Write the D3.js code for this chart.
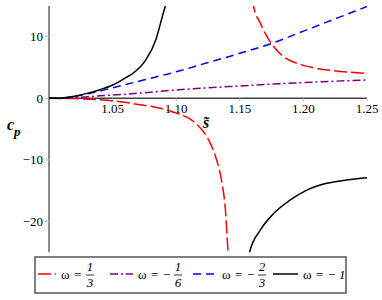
<!DOCTYPE html>
<html lang="en">
<head>
    <meta charset="UTF-8">
    <title>cp vs s</title>
    <style>
        body { margin: 0; background: #fff; }
    </style>
</head>
<body>
<div id="chart"></div>
<script src="https://d3js.org/d3.v7.min.js"></script>
<script>
    // values (s~, c_p)
    const redA_s = [1.0, 1.02, 1.04, 1.056, 1.07, 1.0825, 1.10, 1.115, 1.1256, 1.131, 1.136, 1.1387, 1.1405, 1.1412];
    const redA_c = [0, -0.05, -0.25, -0.55, -1.0, -1.4, -2.4, -4.0, -6.8, -9.5, -13.8, -18.1, -24.1, -26];
    const redB_s = [1.1604, 1.1609, 1.1661, 1.1714, 1.1766, 1.1844, 1.1949, 1.2079, 1.2236, 1.25];
    const redB_c = [16, 14.9, 12.2, 10.0, 8.4, 6.75, 5.68, 4.97, 4.48, 4.06];
    const purple_s = [1.0, 1.02, 1.04, 1.06, 1.08, 1.10, 1.125, 1.15, 1.175, 1.20, 1.225, 1.25];
    const purple_c = [0, 0.1, 0.4, 0.65, 1.0, 1.35, 1.7, 2.0, 2.3, 2.55, 2.78, 2.97];
    const blue_s = [1.0, 1.01, 1.02, 1.03, 1.05, 1.075, 1.10, 1.125, 1.15, 1.175, 1.20, 1.225, 1.25];
    const blue_c = [0, 0.05, 0.3, 0.7, 1.7, 3.0, 4.3, 5.8, 7.3, 8.9, 10.9, 12.9, 14.9];
    const blackA_s = [1.0, 1.01, 1.02, 1.03, 1.04, 1.05, 1.06, 1.066, 1.076, 1.084, 1.089, 1.092, 1.094];
    const blackA_c = [0, 0.05, 0.35, 0.8, 1.4, 2.15, 3.3, 4.06, 6.2, 9.5, 13.2, 15.4, 17];
    const blackB_s = [1.157, 1.1578, 1.1661, 1.1766, 1.1897, 1.2027, 1.2184, 1.2341, 1.25];
    const blackB_c = [-26, -24.9, -21.4, -18.7, -16.5, -14.9, -13.8, -13.26, -12.9];

    const xTicks = [1.05, 1.10, 1.15, 1.20, 1.25];
    const xTickLabels = ["1.05", "1.10", "1.15", "1.20", "1.25"];
    const yTicks = [-20, -10, 0, 10];
    const yTickLabels = ["\u221220", "\u221210", "0", "10"];

    const legendSign = ["", "\u2212", "\u2212", "\u2212"];
    const legendNum = ["1", "1", "2", "1"];
    const legendDen = ["3", "6", "3", null];
    const legendColor = ["#ff0000", "#800080", "#0000ff", "#000000"];
    const legendDash = ["13,4", "8,3,2,3", "8,5", null];

    const W = 382, H = 300;
    const serif = "'Liberation Serif', 'Times New Roman', 'DejaVu Serif', serif";
    const svg = d3.select("#chart").append("svg")
        .attr("width", W)
        .attr("height", H)
        .attr("font-family", serif);

    const x = d3.scaleLinear().domain([1.0, 1.25]).range([49, 367]);
    const y = d3.scaleLinear().domain([-25, 15]).range([252.3, 5.9]);

    svg.append("clipPath").attr("id", "plotclip")
        .append("rect")
        .attr("x", x(1.0)).attr("y", y(15))
        .attr("width", x(1.25) - x(1.0)).attr("height", y(-25) - y(15));

    // axes
    svg.append("line")
        .attr("x1", x(1.0)).attr("x2", x(1.0))
        .attr("y1", y(15)).attr("y2", y(-25))
        .attr("stroke", "#8a8a8a").attr("stroke-width", 2);
    svg.append("line")
        .attr("x1", x(1.0)).attr("x2", x(1.25))
        .attr("y1", y(0)).attr("y2", y(0))
        .attr("stroke", "#444").attr("stroke-width", 1.5);

    // y ticks + labels
    svg.selectAll(".ytick").data(yTicks).join("line")
        .attr("x1", x(1.0) - 4).attr("x2", x(1.0))
        .attr("y1", d => y(d)).attr("y2", d => y(d))
        .attr("stroke", "#bbb").attr("stroke-width", 1);
    svg.selectAll(".ylab").data(yTicks).join("text")
        .attr("x", x(1.0) - 6)
        .attr("y", d => y(d) + 4.5)
        .attr("text-anchor", "end")
        .style("font-size", "13px")
        .text((d, i) => yTickLabels[i]);

    // x ticks + labels
    svg.selectAll(".xtick").data(xTicks).join("line")
        .attr("x1", d => x(d)).attr("x2", d => x(d))
        .attr("y1", y(0)).attr("y2", y(0) + 3)
        .attr("stroke", "#bbb").attr("stroke-width", 1);
    svg.selectAll(".xlab").data(xTicks).join("text")
        .attr("x", d => x(d))
        .attr("y", y(0) + 15)
        .attr("text-anchor", "middle")
        .style("font-size", "13px")
        .text((d, i) => xTickLabels[i]);

    // axis titles
    const cp = svg.append("text")
        .attr("x", 7).attr("y", 130)
        .style("font-size", "16px")
        .style("font-weight", "bold")
        .style("font-style", "italic");
    cp.append("tspan").text("c");
    cp.append("tspan").attr("dy", 6).style("font-size", "13px").text("p");

    svg.append("text")
        .attr("x", 206).attr("y", 128)
        .attr("text-anchor", "middle")
        .style("font-size", "16px")
        .style("font-weight", "bold")
        .style("font-style", "italic")
        .text("s\u0303");

    // curves
    const line = d3.line()
        .x(d => x(d[0]))
        .y(d => y(d[1]))
        .curve(d3.curveMonotoneX);
    const zip = (a, b) => a.map((v, i) => [v, b[i]]);

    const curves = [
        {pts: zip(redA_s, redA_c), color: legendColor[0], dash: legendDash[0]},
        {pts: zip(redB_s, redB_c), color: legendColor[0], dash: legendDash[0]},
        {pts: zip(purple_s, purple_c), color: legendColor[1], dash: legendDash[1]},
        {pts: zip(blue_s, blue_c), color: legendColor[2], dash: legendDash[2]},
        {pts: zip(blackA_s, blackA_c), color: legendColor[3], dash: legendDash[3]},
        {pts: zip(blackB_s, blackB_c), color: legendColor[3], dash: legendDash[3]}
    ];

    svg.append("g").attr("clip-path", "url(#plotclip)")
        .selectAll("path").data(curves).join("path")
        .attr("d", d => line(d.pts))
        .attr("fill", "none")
        .attr("stroke", d => d.color)
        .attr("stroke-width", 1.5)
        .attr("stroke-dasharray", d => d.dash);

    // legend
    svg.append("rect")
        .attr("x", 35).attr("y", 257)
        .attr("width", 311).attr("height", 36)
        .attr("fill", "#fff")
        .attr("stroke", "#555").attr("stroke-width", 1.5);

    const sampleX = [38, 110, 193, 273];
    const sampleLen = [18, 23, 24, 25];
    const ly = 274;
    legendColor.forEach(function (c, i) {
        const g = svg.append("g").attr("transform", `translate(${sampleX[i]},0)`);
        g.append("line")
            .attr("x1", 0).attr("x2", sampleLen[i])
            .attr("y1", ly).attr("y2", ly)
            .attr("stroke", c).attr("stroke-width", 1.5)
            .attr("stroke-dasharray", legendDash[i]);
        let tx = sampleLen[i] + 5;
        g.append("text").attr("x", tx).attr("y", ly + 4.5)
            .style("font-size", "13px").text("\u03c9");
        tx += 13;
        g.append("text").attr("x", tx).attr("y", ly + 4.5)
            .style("font-size", "13px").text("=");
        tx += 12;
        if (legendSign[i]) {
            g.append("text").attr("x", tx).attr("y", ly + 4.5)
                .style("font-size", "13px").text(legendSign[i]);
            tx += 11;
        }
        if (legendDen[i]) {
            g.append("text").attr("x", tx + 4).attr("y", ly - 3)
                .attr("text-anchor", "middle")
                .style("font-size", "13px").style("font-style", "italic")
                .text(legendNum[i]);
            g.append("line")
                .attr("x1", tx).attr("x2", tx + 8)
                .attr("y1", ly + 1).attr("y2", ly + 1)
                .attr("stroke", "#000").attr("stroke-width", 0.8);
            g.append("text").attr("x", tx + 4).attr("y", ly + 13)
                .attr("text-anchor", "middle")
                .style("font-size", "13px").style("font-style", "italic")
                .text(legendDen[i]);
        } else {
            g.append("text").attr("x", tx).attr("y", ly + 4.5)
                .style("font-size", "13px").style("font-style", "italic")
                .text(legendNum[i]);
        }
    });
</script>
</body>
</html>
